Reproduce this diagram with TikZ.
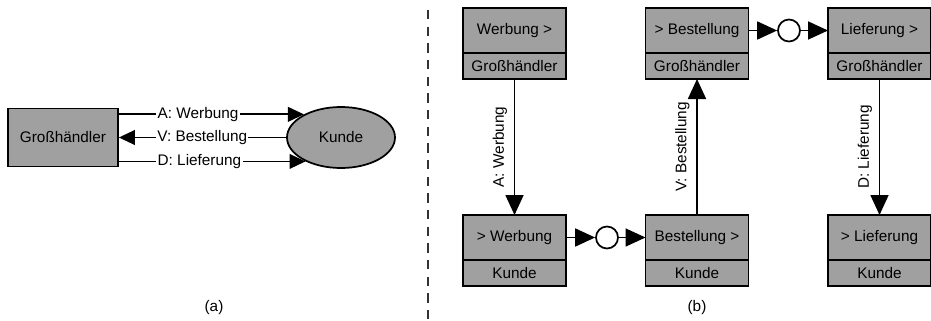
\documentclass[tikz,border=0pt]{standalone}
\usepackage{fontspec}
\setmainfont{Liberation Sans}
\usetikzlibrary{positioning,shapes.geometric,arrows.meta}
\definecolor{boxgray}{RGB}{160,160,160}
\tikzset{
  phase/.style={draw, fill=boxgray, line width=1.3pt, minimum width=77.25pt, minimum height=33.75pt, inner sep=0pt, outer sep=0pt},
  role/.style={phase, minimum height=19.5pt},
  junction/.style={circle, draw, fill=white, line width=1.3pt, minimum size=16.5pt, inner sep=0pt},
  flow/.style={line width=1.3pt, -{Triangle[length=15pt, width=13.5pt]}},
  msg/.style={fill=white, inner sep=1pt, anchor=west},
  vmsg/.style={rotate=90, anchor=south, inner xsep=0pt, inner ysep=5pt},
}
\begin{document}
\begin{tikzpicture}[x=0.75pt, y=-0.75pt, font=\fontsize{11.5}{13}\selectfont]
        \useasboundingbox (0,0) rectangle (931,321);
        % (a)
        \node [draw, fill=boxgray, line width=1.3pt, minimum width=82.5pt, minimum height=43.5pt] (gh) at (63, 137.5) {Großhändler};
        \node [ellipse, draw, fill=boxgray, line width=1.3pt, minimum width=81pt, minimum height=45.75pt, inner sep=0pt] (kd) at (341, 137.5) {Kunde};
        \draw [flow, -{Triangle[length=12pt, width=11pt]}] (gh.east |- kd.148) -- node [msg, pos=0.198] {A: Werbung} (kd.148);
        \draw [flow, -{Triangle[length=12pt, width=11pt]}] (kd.west) -- node [msg, pos=0.783] {V: Bestellung} (gh.east);
        \draw [flow, -{Triangle[length=12pt, width=11pt]}] (gh.east |- kd.214) -- node [msg, pos=0.196] {D: Lieferung} (kd.214);
        \node (capa) at (214, 308) {(a)};
        \draw [dashed, line width=0.9pt, dash pattern=on 7pt off 5.5pt, black!80] (428, 10) -- (428, 321);
        % (b)
        \node [phase] (w1) at (514.5, 30.5) {Werbung >};
        \node [role, below=0pt of w1] (w1r) {Großhändler};
        \node [phase] (b2) at (697, 30.5) {> Bestellung};
        \node [role, below=0pt of b2] (b2r) {Großhändler};
        \node [phase] (l3) at (879.5, 30.5) {Lieferung >};
        \node [role, below=0pt of l3] (l3r) {Großhändler};
        \node [phase] (w4) at (514.5, 237.5) {> Werbung};
        \node [role, below=0pt of w4] (w4r) {Kunde};
        \node [phase] (b5) at (697, 237.5) {Bestellung >};
        \node [role, below=0pt of b5] (b5r) {Kunde};
        \node [phase] (l6) at (879.5, 237.5) {> Lieferung};
        \node [role, below=0pt of l6] (l6r) {Kunde};
        \node [junction] (j1) at (607, 237.5) {};
        \node [junction] (j2) at (789, 30.5) {};
        \draw [flow] (w1r) -- node [vmsg] {A: Werbung} (w4);
        \draw [flow] (w4) -- (j1);
        \draw [flow] (j1) -- (b5);
        \draw [flow] (b5) -- node [vmsg] {V: Bestellung} (b2r);
        \draw [flow] (b2) -- (j2);
        \draw [flow] (j2) -- (l3);
        \draw [flow] (l3r) -- node [vmsg] {D: Lieferung} (l6);
        \node (capb) at (697, 308) {(b)};
\end{tikzpicture}
\end{document}
